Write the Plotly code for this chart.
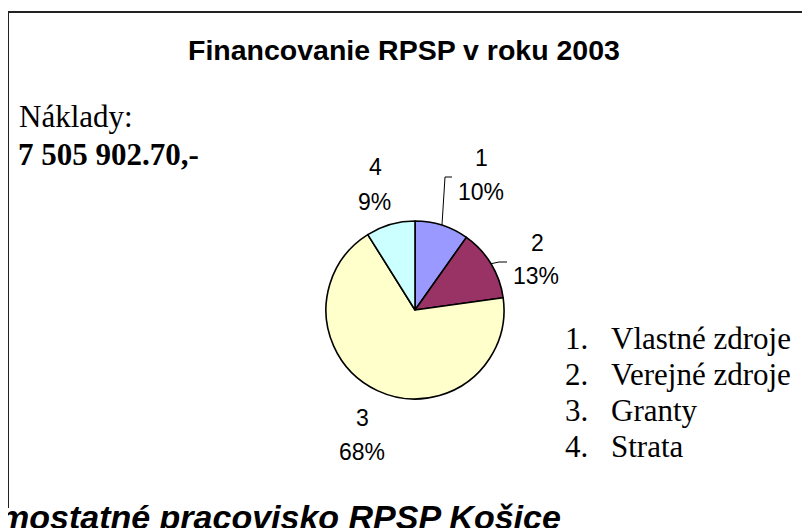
import math
import plotly.graph_objects as go

# ---- data ----
slice_labels = ["1", "2", "3", "4"]
slice_values = [9.8, 13.0, 68.3, 8.9]
slice_colors = ["#9999FF", "#993366", "#FFFFCC", "#CCFFFF"]
legend_numbers = ["1.", "2.", "3.", "4."]
legend_names = ["Vlastné zdroje", "Verejné zdroje", "Granty", "Strata"]
title_text = "Financovanie RPSP v roku 2003"
cost_caption = "Náklady:"
cost_value = "7 505 902.70,-"
footer_text = "mostatné pracovisko RPSP Košice"

W, H = 810, 528
OFF = 8                    # page body margin that offsets the figure in the window
CX, CY, R = 415, 310, 89   # pie geometry in window pixels


def px(x):
    return (x - OFF) / W


def py(y):
    return 1 - (y - OFF) / H


fig = go.Figure()
fig.add_trace(go.Pie(
    labels=slice_labels,
    values=slice_values,
    sort=False,
    direction="clockwise",
    rotation=0,
    marker=dict(colors=slice_colors, line=dict(color="#000000", width=1.6)),
    textinfo="none",
    hoverinfo="label+percent",
    showlegend=False,
    domain=dict(x=[px(CX - R), px(CX + R)], y=[py(CY + R), py(CY - R)]),
))

total = sum(slice_values)
pcts = [round(v / total * 100) for v in slice_values]

# anchor point on the circle at each slice's mid angle (computed from data)
anchors = []
cum = 0.0
for v in slice_values:
    mid = (cum + v / 2) / total * 2 * math.pi
    anchors.append((CX + R * math.sin(mid), CY - R * math.cos(mid)))
    cum += v

annotations = []


def add_text(text, x, y, size, family, xanchor="center", bold=False, italic=False):
    t = text
    if bold:
        t = "<b>" + t + "</b>"
    if italic:
        t = "<i>" + t + "</i>"
    annotations.append(dict(
        text=t, x=px(x), y=py(y), xref="paper", yref="paper",
        xanchor=xanchor, yanchor="middle", showarrow=False,
        font=dict(family=family, size=size, color="#000000"),
    ))


ARIAL = "Liberation Sans, Arial, sans-serif"
TIMES = "Liberation Serif, Times New Roman, serif"

add_text(title_text, 404, 50, 28.5, ARIAL, bold=True)
add_text(cost_caption, 17, 117, 31, TIMES, xanchor="left")
add_text(cost_value, 16, 155, 31, TIMES, xanchor="left", bold=True)

# pie labels (name line + percent line)
label_pos = [(482, 158, 481, 192), (537, 243, 536, 276), (362, 418, 362, 452), (375, 167, 374, 202)]
for lab, p, (x1, y1, x2, y2) in zip(slice_labels, pcts, label_pos):
    add_text(lab, x1, y1, 23, ARIAL)
    add_text(f"{p}%", x2, y2, 23, ARIAL)

# legend list
for i, (num, name) in enumerate(zip(legend_numbers, legend_names)):
    yb = 338 + 36 * i
    add_text(num, 563, yb, 31, TIMES, xanchor="left")
    add_text(name, 609, yb, 31, TIMES, xanchor="left")

add_text(footer_text, -3, 517, 34, ARIAL, xanchor="left", bold=True, italic=True)

shapes = [
    dict(type="line", xref="paper", yref="paper", x0=px(8), y0=py(12), x1=1, y1=py(12),
         line=dict(color="#222222", width=2)),
    dict(type="line", xref="paper", yref="paper", x0=px(8), y0=py(12), x1=px(8), y1=py(508),
         line=dict(color="#222222", width=2)),
]
# leader lines from labels to slices 1 and 2
a1 = anchors[0]
shapes.append(dict(type="path", xref="paper", yref="paper",
                   path=f"M {px(452)} {py(177)} L {px(445)} {py(177)} L {px(a1[0])} {py(a1[1])}",
                   line=dict(color="#000000", width=1)))
a2 = anchors[1]
shapes.append(dict(type="path", xref="paper", yref="paper",
                   path=f"M {px(507)} {py(262)} L {px(499)} {py(262)} L {px(a2[0])} {py(a2[1])}",
                   line=dict(color="#000000", width=1)))

fig.update_layout(
    width=W, height=H,
    margin=dict(l=0, r=0, t=0, b=0),
    paper_bgcolor="#FFFFFF",
    plot_bgcolor="#FFFFFF",
    annotations=annotations,
    shapes=shapes,
)

fig.write_html("out.html")
